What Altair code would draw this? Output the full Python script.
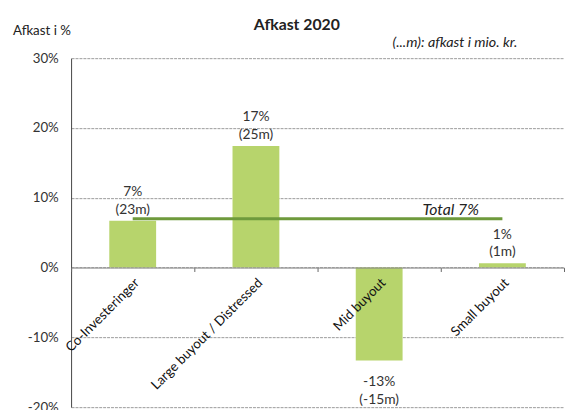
import altair as alt
import pandas as pd

# ---- data ----
categories = ["Co-Investeringer", "Large buyout / Distressed", "Mid buyout", "Small buyout"]
returns_pct = [6.7, 17.4, -13.3, 0.6]
pct_labels = ["7%", "17%", "-13%", "1%"]
mio_labels = ["(23m)", "(25m)", "(-15m)", "(1m)"]
total_pct = 7
total_label = "Total 7%"
y_ticks = [-20, -10, 0, 10, 20, 30]

title_text = "Afkast 2020"
y_title_text = "Afkast i %"
note_text = "(...m): afkast i mio. kr."

FONT = "Lato"
BAR = "#b7d46c"
LINE = "#6e9a3c"

df = pd.DataFrame({
    "cat": categories,
    "value": returns_pct,
    "label": [p + "\n" + m for p, m in zip(pct_labels, mio_labels)],
})
df_total = pd.DataFrame({"cat": [categories[0], categories[-1]], "total": [total_pct, total_pct]})
df_total_lbl = pd.DataFrame({"total": [total_pct], "t": [total_label]})

W, H = 500, 354
zero_y = H * 30 / 50

x_enc = alt.X(
    "cat:N",
    sort=categories,
    scale=alt.Scale(paddingInner=0, paddingOuter=0),
    axis=alt.Axis(
        title=None,
        labelAngle=-45,
        labelAlign="right",
        labelBaseline="middle",
        labelFont=FONT,
        labelFontSize=13.5,
        labelColor="#111",
        labelPadding=9,
        labelOffset=4,
        tickBand="extent",
        tickSize=4,
        tickColor="#666",
        domainColor="#888",
        offset=zero_y - H,
        zindex=1,
        labelLimit=300,
    ),
)
y_scale = alt.Scale(domain=[-20, 30], nice=False)
y_enc = alt.Y(
    "value:Q",
    scale=y_scale,
    axis=alt.Axis(
        title=None,
        values=y_ticks,
        labelExpr="datum.value + '%'",
        labelFont=FONT,
        labelFontSize=13.5,
        labelColor="#333",
        ticks=False,
        labelPadding=13,
        domainColor="#444",
        gridColor="#9a9a9a",
        gridDash=[3, 1],
        gridWidth=1,
    ),
)

bars = alt.Chart(df).mark_bar(color=BAR, width=alt.RelativeBandSize(0.38)).encode(x=x_enc, y=y_enc)

lbl_pos = alt.Chart(df).transform_filter("datum.value >= 0").mark_text(
    baseline="bottom", dy=-22, lineBreak="\n", lineHeight=18, font=FONT, fontSize=14, color="#333"
).encode(x=alt.X("cat:N", sort=categories), y=alt.Y("value:Q", scale=y_scale), text="label:N")

lbl_neg = alt.Chart(df).transform_filter("datum.value < 0").mark_text(
    baseline="top", dy=15, lineBreak="\n", lineHeight=18, font=FONT, fontSize=14, color="#333"
).encode(x=alt.X("cat:N", sort=categories), y=alt.Y("value:Q", scale=y_scale), text="label:N")

total_line = alt.Chart(df_total).mark_line(color=LINE, strokeWidth=3).encode(
    x=alt.X("cat:N", sort=categories), y=alt.Y("total:Q", scale=y_scale)
)
total_txt = alt.Chart(df_total_lbl).mark_text(
    font=FONT, fontSize=16, fontStyle="italic", color="#222", baseline="middle", dy=-9
).encode(x=alt.value(385), y=alt.Y("total:Q", scale=y_scale), text="t:N")

ann = pd.DataFrame({"a": [0]})
title = alt.Chart(ann).mark_text(
    text=title_text, font=FONT, fontSize=16, fontWeight="bold", color="#222", baseline="middle"
).encode(x=alt.value(229), y=alt.value(-34))
ytitle = alt.Chart(ann).mark_text(
    text=y_title_text, font=FONT, fontSize=13.5, color="#222", align="left", baseline="middle"
).encode(x=alt.value(-59), y=alt.value(-27))
note = alt.Chart(ann).mark_text(
    text=note_text, font=FONT, fontSize=14.5, fontStyle="italic", color="#222", align="left", baseline="middle"
).encode(x=alt.value(326), y=alt.value(-15))

chart = alt.layer(bars, total_line, lbl_pos, lbl_neg, total_txt, title, ytitle, note).properties(
    width=W,
    height=H,
    autosize=alt.AutoSizeParams(type="none"),
    padding={"left": 64, "top": 48, "right": 1, "bottom": 0},
    background="white",
).configure_view(strokeWidth=0)

chart.save("out.html", embed_options={"renderer": "svg", "actions": False})
